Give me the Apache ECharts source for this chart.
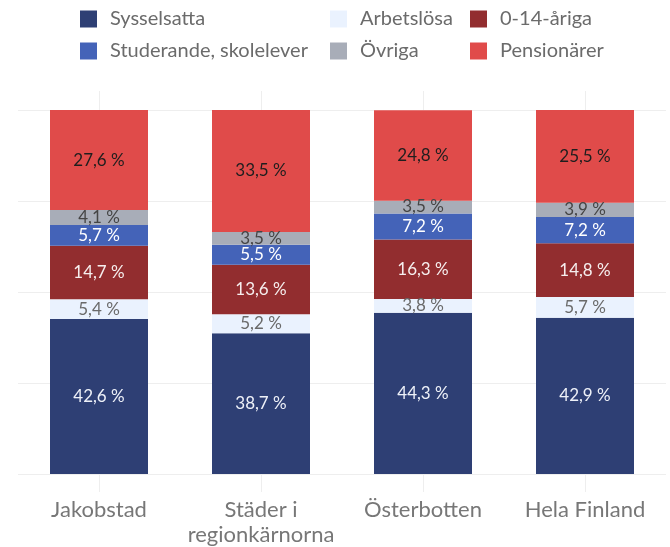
<!DOCTYPE html>
<html>
<head>
<meta charset="utf-8">
<script src="https://cdn.jsdelivr.net/npm/echarts@6/dist/echarts.min.js"></script>
<style>
  html, body { margin: 0; padding: 0; background: #fff; }
  #chart { width: 670px; height: 547px; }
</style>
</head>
<body>
<div id="chart"></div>
<script>
// kategorier
var categories = ['Jakobstad', 'Städer i\nregionkärnorna', 'Österbotten', 'Hela Finland'];
// andelar i procent, nerifrån och upp
var sysselsatta = [42.6, 38.7, 44.3, 42.9];
var arbetslosa = [5.4, 5.2, 3.8, 5.7];
var barn = [14.7, 13.6, 16.3, 14.8];
var studerande = [5.7, 5.5, 7.2, 7.2];
var ovriga = [4.1, 3.5, 3.5, 3.9];
var pensionarer = [27.6, 33.5, 24.8, 25.5];

var font = 'Lato, "Noto Sans", sans-serif';

var seriesDefs = [
    { name: 'Sysselsatta', data: sysselsatta, color: '#2e3f74', label: '#eef1f8' },
    { name: 'Arbetslösa', data: arbetslosa, color: '#eaf2fe', label: '#6a6a6a' },
    { name: '0-14-åriga', data: barn, color: '#922d2f', label: '#f6eeee' },
    { name: 'Studerande, skolelever', data: studerande, color: '#4463b8', label: '#ffffff' },
    { name: 'Övriga', data: ovriga, color: '#a8adb8', label: '#454545' },
    { name: 'Pensionärer', data: pensionarer, color: '#e04b4a', label: '#1e1e1e' }
];

var series = seriesDefs.map(function(s) {
    return {
        name: s.name,
        type: 'bar',
        stack: 'total',
        barWidth: 98,
        data: s.data,
        itemStyle: { color: s.color },
        label: {
            show: true,
            position: 'inside',
            color: s.label,
            fontSize: 17,
            fontFamily: font,
            formatter: function(p) {
                return p.value.toFixed(1).replace('.', ',') + ' %';
            }
        }
    };
});

// legend i tabellform, en per ruta
var legendPos = [
    { name: 'Sysselsatta', left: 80, top: 9 },
    { name: 'Arbetslösa', left: 330, top: 9 },
    { name: '0-14-åriga', left: 470, top: 9 },
    { name: 'Studerande, skolelever', left: 80, top: 41 },
    { name: 'Övriga', left: 330, top: 41 },
    { name: 'Pensionärer', left: 470, top: 41 }
];
var legends = legendPos.map(function(l) {
    return {
        data: [l.name],
        left: l.left,
        top: l.top,
        padding: 0,
        icon: 'rect',
        itemWidth: 17,
        itemHeight: 17,
        selectedMode: false,
        textStyle: {
            color: '#6b6b6b',
            fontSize: 20,
            fontFamily: font,
            padding: [0, 0, 0, 8]
        }
    };
});

var chart = echarts.init(document.getElementById('chart'));
chart.setOption({
    animation: false,
    legend: legends,
    grid: { left: 18, right: 4, top: 110, bottom: 71 },
    xAxis: [
        {
            type: 'category',
            data: categories,
            position: 'bottom',
            axisLine: { show: false },
            axisTick: { show: true, interval: 0, alignWithLabel: true, length: 18, lineStyle: { color: '#eeeeee' } },
            axisLabel: { interval: 0, color: '#777777', fontSize: 22, fontFamily: font, margin: 23, lineHeight: 25 }
        },
        {
            type: 'category',
            data: categories,
            position: 'top',
            axisLine: { show: false },
            axisTick: { show: true, interval: 0, alignWithLabel: true, length: 19, lineStyle: { color: '#eeeeee' } },
            axisLabel: { show: false }
        }
    ],
    yAxis: {
        type: 'value',
        min: 0,
        max: 100,
        interval: 25,
        axisLine: { show: false },
        axisTick: { show: false },
        axisLabel: { show: false },
        splitLine: { lineStyle: { color: '#eeeeee', width: 1 } }
    },
    series: series
});
</script>
</body>
</html>
